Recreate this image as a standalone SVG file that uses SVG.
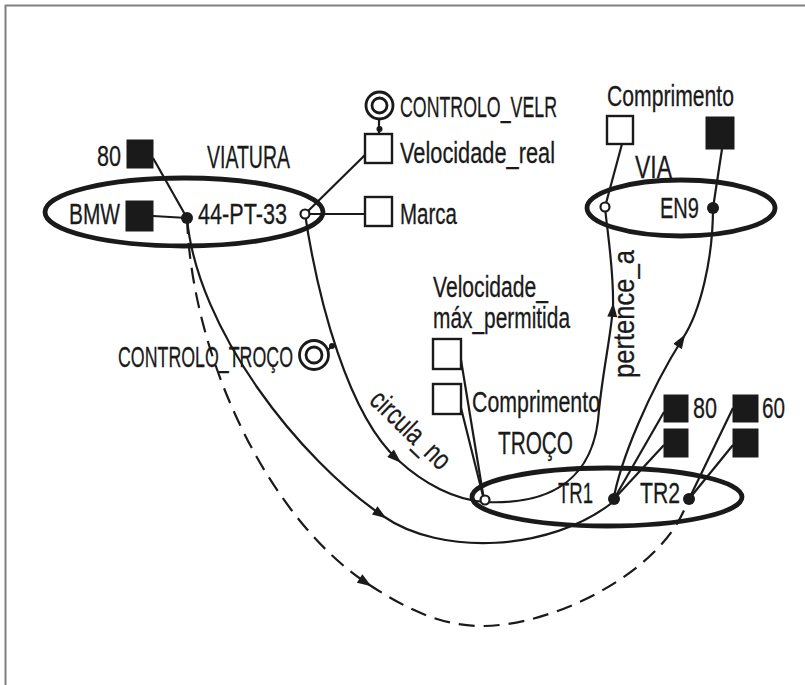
<svg xmlns="http://www.w3.org/2000/svg" width="805" height="685" viewBox="0 0 805 685">
<defs>
<marker id="arr" viewBox="0 0 14 10" refX="10" refY="5" markerWidth="15" markerHeight="10" markerUnits="userSpaceOnUse" orient="auto">
<path d="M0,0 L14,5 L0,10 Z" fill="#1a1a1a" stroke="none"/>
</marker>
</defs>
<style>
text{font-family:"Liberation Sans Narrow","Liberation Sans",Arial,sans-serif;font-size:29px;fill:#1a1a1a;stroke:#1a1a1a;stroke-width:0.3}
.t{font-size:32px}
.ell{fill:none;stroke:#1a1a1a;stroke-width:4.8}
.ln{fill:none;stroke:#1a1a1a;stroke-width:2.2}
.dash{fill:none;stroke:#1a1a1a;stroke-width:2.2;stroke-dasharray:16,9}
.wsq{fill:#fff;stroke:#1a1a1a;stroke-width:2.4}
.bsq{fill:#1a1a1a;stroke:#1a1a1a;stroke-width:1}
.dot{fill:#1a1a1a}
.oc{fill:#fff;stroke:#1a1a1a;stroke-width:2.2}
.dc{fill:none;stroke:#1a1a1a;stroke-width:2.8}
</style>
<rect width="805" height="685" fill="#fff"/>
<g id="border" stroke="#808080" stroke-width="2">
<line x1="5" y1="5.5" x2="805" y2="5.5"/>
<line x1="5.5" y1="5" x2="5.5" y2="685"/>
</g>

<g id="connectors">
<line class="ln" x1="153" y1="158" x2="187" y2="218"/>
<line class="ln" x1="153" y1="216" x2="187" y2="218"/>
<line class="ln" x1="305" y1="214" x2="365" y2="155"/>
<line class="ln" x1="305" y1="214" x2="365" y2="214"/>
<line class="ln" x1="379" y1="119" x2="379" y2="134"/>
<line class="ln" x1="622" y1="144" x2="605" y2="207"/>
<line class="ln" x1="722" y1="149" x2="713" y2="208"/>
<line class="ln" x1="461" y1="360" x2="484" y2="500"/>
<line class="ln" x1="461" y1="408" x2="484" y2="500"/>
<line class="ln" x1="614" y1="499" x2="664" y2="412"/>
<line class="ln" x1="614" y1="499" x2="664" y2="445"/>
<line class="ln" x1="689" y1="499" x2="733" y2="408"/>
<line class="ln" x1="689" y1="499" x2="733" y2="445"/>
<line class="ln" x1="328" y1="350" x2="332" y2="346"/>
<path class="ln" d="M305,214 C318,300 348,415 398,460" marker-end="url(#arr)"/>
<path class="ln" d="M398,460 C424,484 455,500 485,502"/>
<path class="ln" d="M187,218 C197,330 300,460 383,516" marker-end="url(#arr)"/>
<path class="ln" d="M383,516 C440,556 550,552 613,502"/>
<path class="dash" d="M187,218 C192,360 270,520 368,584" marker-end="url(#arr)"/>
<path class="dash" d="M368,584 C405,608 440,626 482,626 C555,626 668,570 689,497"/>
<path class="ln" d="M485,502 C550,505 595,480 599,410 C603,370 611,335 613,307" marker-end="url(#arr)"/>
<path class="ln" d="M613,307 C614,270 607,230 605,207"/>
<path class="ln" d="M613,502 C620,460 650,390 683,338" marker-end="url(#arr)"/>
<path class="ln" d="M683,338 C700,312 713,260 713,208"/>
</g>

<g id="viatura">
<ellipse class="ell" cx="184" cy="212" rx="139" ry="34"/>
<text class="t" x="207" y="168" textLength="83" lengthAdjust="spacingAndGlyphs">VIATURA</text>
<text x="69" y="224" textLength="51" lengthAdjust="spacingAndGlyphs">BMW</text>
<text x="198" y="224" textLength="89" lengthAdjust="spacingAndGlyphs">44-PT-33</text>
<circle class="dot" cx="187" cy="218" r="6"/>
<circle class="oc" cx="305" cy="214" r="4.5"/>
</g>
<g id="attr-80">
<text x="97" y="166" textLength="24" lengthAdjust="spacingAndGlyphs">80</text>
<rect class="bsq" x="127" y="140" width="26" height="28"/>
</g>
<g id="attr-bmw">
<rect class="bsq" x="126" y="201" width="27" height="30"/>
</g>
<g id="controlo-velr">
<circle class="dc" cx="379.5" cy="105.5" r="13.5"/>
<circle class="dc" cx="379.5" cy="105.5" r="7.5"/>
<circle class="dot" cx="379.5" cy="129" r="3"/>
<text x="400" y="117" textLength="157" lengthAdjust="spacingAndGlyphs">CONTROLO_VELR</text>
</g>
<g id="velocidade-real">
<rect class="wsq" x="365" y="134" width="27" height="29"/>
<text x="400" y="163" textLength="155" lengthAdjust="spacingAndGlyphs">Velocidade_real</text>
</g>
<g id="marca">
<rect class="wsq" x="365" y="197" width="27" height="29"/>
<text x="400" y="224" textLength="57" lengthAdjust="spacingAndGlyphs">Marca</text>
</g>

<g id="via">
<ellipse class="ell" cx="681" cy="208" rx="94" ry="28"/>
<text class="t" x="635" y="178" textLength="37" lengthAdjust="spacingAndGlyphs">VIA</text>
<text x="660" y="218" textLength="39" lengthAdjust="spacingAndGlyphs">EN9</text>
<circle class="oc" cx="605" cy="207" r="4.5"/>
<circle class="dot" cx="713" cy="208" r="6"/>
</g>
<g id="via-comprimento">
<text x="607" y="106" textLength="127" lengthAdjust="spacingAndGlyphs">Comprimento</text>
<rect class="wsq" x="607" y="116" width="26" height="28"/>
</g>
<g id="via-en9-comprimento">
<rect class="bsq" x="706" y="117" width="28" height="32"/>
</g>

<g id="controlo-troco">
<circle class="dc" cx="314" cy="355" r="14.5"/>
<circle class="dc" cx="314" cy="355" r="8"/>
<circle class="dot" cx="332" cy="346" r="3"/>
<text x="118" y="367" textLength="175" lengthAdjust="spacingAndGlyphs">CONTROLO_TROÇO</text>
</g>

<g id="troco">
<ellipse class="ell" cx="607" cy="497" rx="135" ry="29"/>
<text class="t" x="498" y="454" textLength="75" lengthAdjust="spacingAndGlyphs">TROÇO</text>
<text x="558" y="503" textLength="35" lengthAdjust="spacingAndGlyphs">TR1</text>
<text x="640" y="503" textLength="40" lengthAdjust="spacingAndGlyphs">TR2</text>
<circle class="oc" cx="485" cy="500" r="4.5"/>
<circle class="dot" cx="614" cy="499" r="6"/>
<circle class="dot" cx="689" cy="499" r="6"/>
</g>
<g id="troco-velocidade">
<text x="433" y="297" textLength="115" lengthAdjust="spacingAndGlyphs">Velocidade_</text>
<text x="433" y="328" textLength="137" lengthAdjust="spacingAndGlyphs">máx_permitida</text>
<rect class="wsq" x="433" y="339" width="28" height="30"/>
</g>
<g id="troco-comprimento">
<rect class="wsq" x="433" y="384" width="28" height="30"/>
<text x="472" y="412" textLength="128" lengthAdjust="spacingAndGlyphs">Comprimento</text>
</g>
<g id="tr1-attrs">
<rect class="bsq" x="664" y="395" width="24" height="27"/>
<text x="693" y="418" textLength="24" lengthAdjust="spacingAndGlyphs">80</text>
<rect class="bsq" x="664" y="429" width="24" height="28"/>
</g>
<g id="tr2-attrs">
<rect class="bsq" x="733" y="395" width="25" height="27"/>
<text x="762" y="418" textLength="23" lengthAdjust="spacingAndGlyphs">60</text>
<rect class="bsq" x="733" y="429" width="25" height="28"/>
</g>

<g id="labels">
<text transform="translate(368,402) rotate(44)" textLength="100" lengthAdjust="spacingAndGlyphs">circula_no</text>
<text transform="translate(634,378) rotate(-90)" textLength="128" lengthAdjust="spacingAndGlyphs">pertence_a</text>
</g>
</svg>
